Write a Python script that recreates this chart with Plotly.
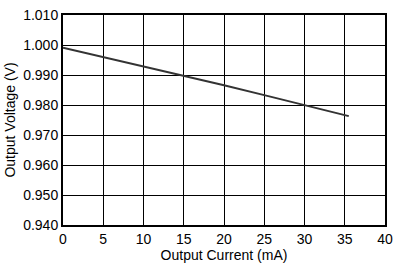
import plotly.graph_objects as go

current_ma = [0, 5, 10, 15, 20, 25, 30, 35.5]
voltage_v = [0.9991, 0.9960, 0.9929, 0.9898, 0.9866, 0.9833, 0.9800, 0.9763]

x_ticks = [0, 5, 10, 15, 20, 25, 30, 35, 40]
y_ticks = [0.940, 0.950, 0.960, 0.970, 0.980, 0.990, 1.000, 1.010]
y_tick_labels = ["%.3f" % v for v in y_ticks]

fig = go.Figure()
fig.add_trace(go.Scatter(x=current_ma, y=voltage_v, mode="lines",
                         line=dict(color="#333333", width=2), showlegend=False))

font = dict(family="Liberation Sans, Arial, sans-serif", size=14, color="black")
fig.update_layout(
    width=400, height=267,
    margin=dict(l=63, r=14, t=7, b=42),
    paper_bgcolor="white", plot_bgcolor="white",
    font=font,
)
fig.update_xaxes(range=[0, 40], tickvals=x_ticks, ticks="", showgrid=True,
                 gridcolor="black", gridwidth=1, showline=True, linecolor="black",
                 linewidth=2, mirror=True, zeroline=False, ticklabeloverflow="allow",
                 title=dict(text="Output Current (mA)", font=dict(size=14), standoff=2),
                 tickfont=dict(size=14))
fig.update_yaxes(range=[0.940, 1.010], tickvals=y_ticks, ticktext=y_tick_labels,
                 ticks="", showgrid=True, gridcolor="black", gridwidth=1,
                 showline=True, linecolor="black", linewidth=2, mirror=True,
                 zeroline=False, ticklabeloverflow="allow",
                 title=dict(text="Output Voltage (V)", font=dict(size=14), standoff=4),
                 tickfont=dict(size=14))

fig.write_html("out.html")
